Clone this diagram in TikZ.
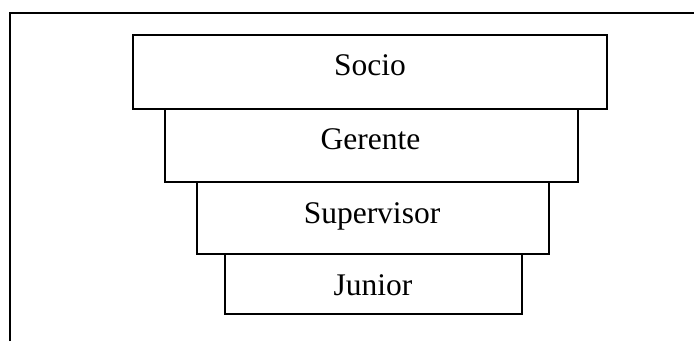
\documentclass[tikz,border=0pt]{standalone}
\usepackage{fontspec}
\setmainfont{Liberation Serif}
\begin{document}
\begin{tikzpicture}[x=1pt,y=-1pt,
  lvl/.style={draw=black,line width=1.8pt},
  lbl/.style={anchor=base,inner sep=0pt,font=\fontsize{31.5}{36}\selectfont},
  frame/.style={draw=black,line width=1.9pt}]
\useasboundingbox (0,0) rectangle (694,341);
\coordinate (ftl) at (10,13);
\coordinate (fbl) at (10,341);
\coordinate (ftr) at (694,13);
\draw[frame] (fbl) -- (ftl) -- (ftr);
\draw[lvl] (133,35) rectangle (607,109);
\draw[lvl] (165,109) rectangle (578,182);
\draw[lvl] (197,182) rectangle (549,254);
\draw[lvl] (225,254) rectangle (522,314);
\node[lbl] (socio) at (370,75) {Socio};
\node[lbl] (gerente) at (370.5,149.3) {Gerente};
\node[lbl] (sup) at (372,223) {Supervisor};
\node[lbl] (jun) at (373,295) {Junior};
\end{tikzpicture}
\end{document}
